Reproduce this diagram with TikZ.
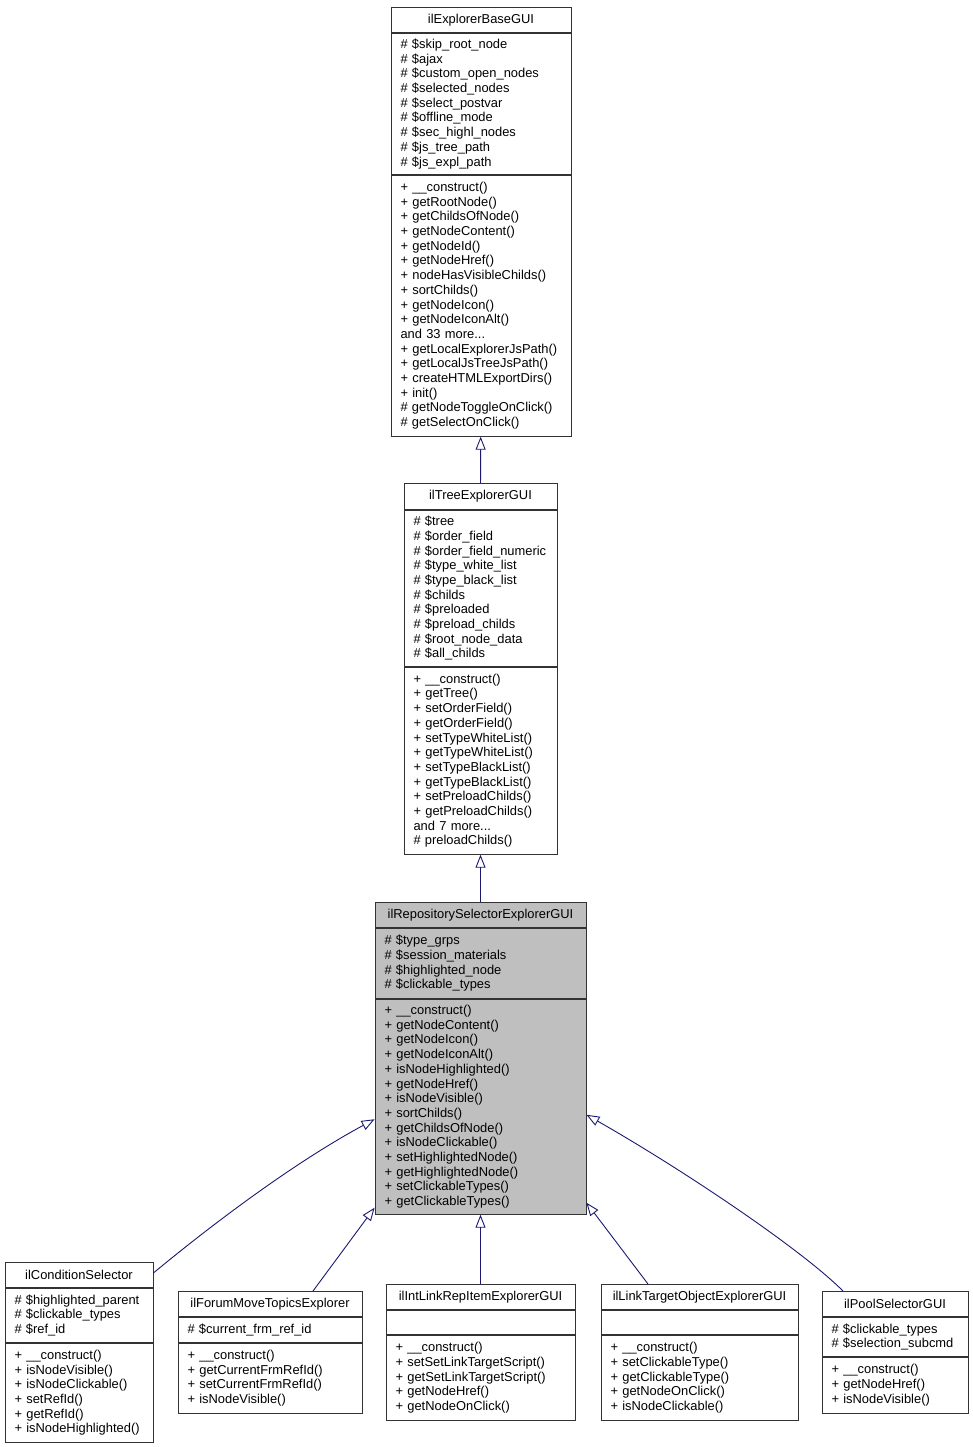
\documentclass[tikz,border=0pt]{standalone}
\usepackage{fontspec}
\setmainfont{Liberation Sans}
\usetikzlibrary{positioning}
\usetikzlibrary{arrows.meta}
\definecolor{edgeblue}{HTML}{191970}
\definecolor{hlgrey}{HTML}{BFBFBF}
\definecolor{boxline}{HTML}{333333}
\tikzset{%
  cls/.style = {draw=boxline,solid,line width=0.9pt,text width=#1,inner xsep=9.5pt,
        inner ysep=0pt,align=left,anchor=north,font=\fontsize{12.9}{14.7}\selectfont},
  clstitle/.style = {cls=#1,align=center,minimum height=25pt},
  hl/.style = {fill=hlgrey},
  inherit/.style = {draw=edgeblue,line width=0.9pt,
        -{Triangle[open,length=13pt,width=10pt]}}
}

\begin{document}
\begin{tikzpicture}[x=1pt,y=-1pt]
   \useasboundingbox (0,0) rectangle (973,1447);

   % base class
   \node[clstitle=161pt] (base) at (481,7) {ilExplorerBaseGUI};
   \node[cls=161pt,minimum height=141pt] (base-attr) [below=0pt of base]
      {\# \$skip\_root\_node\\\# \$ajax\\\# \$custom\_open\_nodes\\
       \# \$selected\_nodes\\\# \$select\_postvar\\\# \$offline\_mode\\
       \# \$sec\_highl\_nodes\\\# \$js\_tree\_path\\\# \$js\_expl\_path};
   \node[cls=161pt,minimum height=261pt] (base-meth) [below=0pt of base-attr]
      {+ \_\_construct()\\+ getRootNode()\\+ getChildsOfNode()\\
       + getNodeContent()\\+ getNodeId()\\+ getNodeHref()\\
       + nodeHasVisibleChilds()\\+ sortChilds()\\+ getNodeIcon()\\
       + getNodeIconAlt()\\and 33 more...\\+ getLocalExplorerJsPath()\\
       + getLocalJsTreeJsPath()\\+ createHTMLExportDirs()\\+ init()\\
       \# getNodeToggleOnClick()\\\# getSelectOnClick()};

   % tree explorer
   \node[clstitle=134pt,minimum height=26pt] (tree) at (480.5,483) {ilTreeExplorerGUI};
   \node[cls=134pt,minimum height=156pt] (tree-attr) [below=0pt of tree]
      {\# \$tree\\\# \$order\_field\\\# \$order\_field\_numeric\\
       \# \$type\_white\_list\\\# \$type\_black\_list\\\# \$childs\\
       \# \$preloaded\\\# \$preload\_childs\\\# \$root\_node\_data\\
       \# \$all\_childs};
   \node[cls=134pt,minimum height=187pt] (tree-meth) [below=0pt of tree-attr]
      {+ \_\_construct()\\+ getTree()\\+ setOrderField()\\+ getOrderField()\\
       + setTypeWhiteList()\\+ getTypeWhiteList()\\+ setTypeBlackList()\\
       + getTypeBlackList()\\+ setPreloadChilds()\\+ getPreloadChilds()\\
       and 7 more...\\\# preloadChilds()};

   % repository selector
   \node[clstitle=192pt,hl] (repo) at (480.5,902) {ilRepositorySelectorExplorerGUI};
   \node[cls=192pt,hl,minimum height=70pt] (repo-attr) [below=0pt of repo]
      {\# \$type\_grps\\\# \$session\_materials\\\# \$highlighted\_node\\
       \# \$clickable\_types};
   \node[cls=192pt,hl,minimum height=215pt] (repo-meth) [below=0pt of repo-attr]
      {+ \_\_construct()\\+ getNodeContent()\\+ getNodeIcon()\\
       + getNodeIconAlt()\\+ isNodeHighlighted()\\+ getNodeHref()\\
       + isNodeVisible()\\+ sortChilds()\\+ getChildsOfNode()\\
       + isNodeClickable()\\+ setHighlightedNode()\\+ getHighlightedNode()\\
       + setClickableTypes()\\+ getClickableTypes()};

   % derived classes
   \node[clstitle=129pt] (cond) at (79,1262) {ilConditionSelector};
   \node[cls=129pt,minimum height=54pt] (cond-attr) [below=0pt of cond]
      {\# \$highlighted\_parent\\\# \$clickable\_types\\\# \$ref\_id};
   \node[cls=129pt,minimum height=99pt] (cond-meth) [below=0pt of cond-attr]
      {+ \_\_construct()\\+ isNodeVisible()\\+ isNodeClickable()\\
       + setRefId()\\+ getRefId()\\+ isNodeHighlighted()};

   \node[clstitle=165pt] (forum) at (270,1291) {ilForumMoveTopicsExplorer};
   \node[cls=165pt,minimum height=25pt] (forum-attr) [below=0pt of forum]
      {\# \$current\_frm\_ref\_id};
   \node[cls=165pt,minimum height=70pt] (forum-meth) [below=0pt of forum-attr]
      {+ \_\_construct()\\+ getCurrentFrmRefId()\\+ setCurrentFrmRefId()\\
       + isNodeVisible()};

   \node[clstitle=170pt] (intlink) at (480.5,1284) {ilIntLinkRepItemExplorerGUI};
   \node[cls=170pt,minimum height=24pt] (intlink-attr) [below=0pt of intlink] {};
   \node[cls=170pt,minimum height=85pt] (intlink-meth) [below=0pt of intlink-attr]
      {+ \_\_construct()\\+ setSetLinkTargetScript()\\
       + getSetLinkTargetScript()\\+ getNodeHref()\\+ getNodeOnClick()};

   \node[clstitle=178pt] (target) at (699.5,1284) {ilLinkTargetObjectExplorerGUI};
   \node[cls=178pt,minimum height=24pt] (target-attr) [below=0pt of target] {};
   \node[cls=178pt,minimum height=85pt] (target-meth) [below=0pt of target-attr]
      {+ \_\_construct()\\+ setClickableType()\\+ getClickableType()\\
       + getNodeOnClick()\\+ isNodeClickable()};

   \node[clstitle=127pt] (pool) at (895,1291) {ilPoolSelectorGUI};
   \node[cls=127pt,minimum height=39pt] (pool-attr) [below=0pt of pool]
      {\# \$clickable\_types\\\# \$selection\_subcmd};
   \node[cls=127pt,minimum height=56pt] (pool-meth) [below=0pt of pool-attr]
      {+ \_\_construct()\\+ getNodeHref()\\+ isNodeVisible()};

   % inheritance
   \draw[inherit] (tree) -- (base-meth);
   \draw[inherit] (repo) -- (tree-meth);
   \draw[inherit] ([yshift=2pt]cond.east)
      .. controls (198,1236) and (286,1167) .. ([yshift=-12.5pt]repo-meth.west);
   \draw[inherit] ([xshift=43pt]forum.north) -- ([yshift=7pt]repo-meth.south west);
   \draw[inherit] (intlink) -- (repo-meth);
   \draw[inherit] ([xshift=-51.5pt]target.north) -- ([yshift=12pt]repo-meth.south east);
   \draw[inherit] ([xshift=-52pt]pool.north)
      .. controls (800,1248) and (680,1168) .. ([yshift=-8pt]repo-meth.east);
\end{tikzpicture}
\end{document}
